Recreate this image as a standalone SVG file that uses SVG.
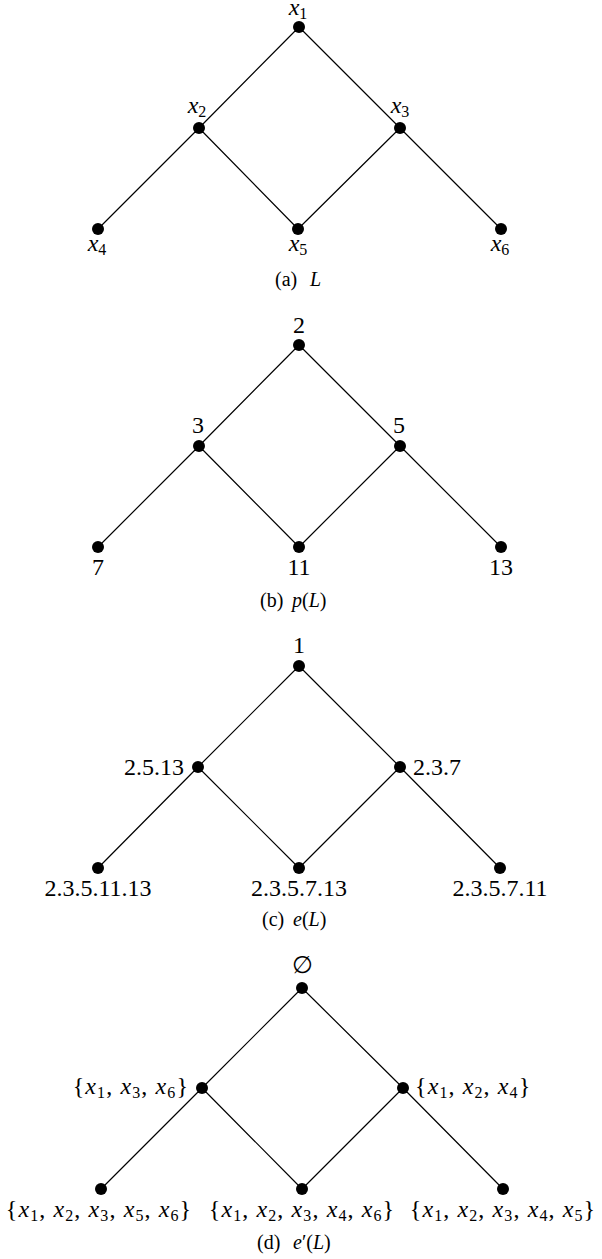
<svg xmlns="http://www.w3.org/2000/svg" width="602" height="1259" viewBox="0 0 602 1259">
<style>
text{font-family:"Liberation Serif",serif;fill:#000}
.es{font-family:"DejaVu Serif",serif}
.e{stroke:#000;stroke-width:1.2;fill:none}
.n{fill:#000}
.l{font-size:24px}
.c{font-size:20px}
.it{font-style:italic}
.s{font-size:16px}
.m{text-anchor:middle}
.r{text-anchor:end}
.w{letter-spacing:1.1px}
</style>
<rect width="602" height="1259" fill="#fff"/>
<g id="connectors">
<path class="e" d="M299,27L199,128M299,27L400,128M199,128L98,229M199,128L298,229M400,128L298,229M400,128L501,229"/>
<path class="e" d="M299,345L199,446M299,345L400,446M199,446L98,547M199,446L299,547M400,446L299,547M400,446L501,547"/>
<path class="e" d="M299,666L198,767M299,666L400,767M198,767L98,868M198,767L299,868M400,767L299,868M400,767L500,868"/>
<path class="e" d="M302,988L202,1088M302,988L403,1088M202,1088L101,1189M202,1088L302,1189M403,1088L302,1189M403,1088L503,1189"/>
</g>
<!-- (a) -->
<g id="a-x1"><circle class="n" cx="299" cy="27" r="6"/><text class="l m" x="298" y="15"><tspan class="it">x</tspan><tspan class="s" dy="4">1</tspan></text></g>
<g id="a-x2"><circle class="n" cx="199" cy="128" r="6"/><text class="l m" x="197" y="113"><tspan class="it">x</tspan><tspan class="s" dy="4">2</tspan></text></g>
<g id="a-x3"><circle class="n" cx="400" cy="128" r="6"/><text class="l m" x="400" y="113"><tspan class="it">x</tspan><tspan class="s" dy="4">3</tspan></text></g>
<g id="a-x4"><circle class="n" cx="98" cy="229" r="6"/><text class="l m" x="97" y="251"><tspan class="it">x</tspan><tspan class="s" dy="4">4</tspan></text></g>
<g id="a-x5"><circle class="n" cx="298" cy="229" r="6"/><text class="l m" x="298" y="251"><tspan class="it">x</tspan><tspan class="s" dy="4">5</tspan></text></g>
<g id="a-x6"><circle class="n" cx="501" cy="229" r="6"/><text class="l m" x="500" y="251"><tspan class="it">x</tspan><tspan class="s" dy="4">6</tspan></text></g>
<text class="c" x="275" y="286">(a)<tspan class="it" x="310">L</tspan></text>
<!-- (b) -->
<g id="b-2"><circle class="n" cx="299" cy="345" r="6"/><text class="l m" x="299" y="333">2</text></g>
<g id="b-3"><circle class="n" cx="199" cy="446" r="6"/><text class="l m" x="198" y="433">3</text></g>
<g id="b-5"><circle class="n" cx="400" cy="446" r="6"/><text class="l m" x="399" y="433">5</text></g>
<g id="b-7"><circle class="n" cx="98" cy="547" r="6"/><text class="l m" x="98" y="575">7</text></g>
<g id="b-11"><circle class="n" cx="299" cy="547" r="6"/><text class="l m" x="299" y="575">11</text></g>
<g id="b-13"><circle class="n" cx="501" cy="547" r="6"/><text class="l m" x="501" y="575">13</text></g>
<text class="c" x="260" y="607">(b)<tspan x="292"><tspan class="it">p</tspan>(<tspan class="it">L</tspan>)</tspan></text>
<!-- (c) -->
<g id="c-1"><circle class="n" cx="299" cy="666" r="6"/><text class="l m" x="299" y="653">1</text></g>
<g id="c-2513"><circle class="n" cx="198" cy="767" r="6"/><text class="l r" x="184" y="775">2.5.13</text></g>
<g id="c-237"><circle class="n" cx="400" cy="767" r="6"/><text class="l" x="413" y="775">2.3.7</text></g>
<g id="c-2351113"><circle class="n" cx="98" cy="868" r="6"/><text class="l m" x="98" y="896">2.3.5.11.13</text></g>
<g id="c-235713"><circle class="n" cx="299" cy="868" r="6"/><text class="l m" x="299" y="896">2.3.5.7.13</text></g>
<g id="c-235711"><circle class="n" cx="500" cy="868" r="6"/><text class="l m" x="500" y="896">2.3.5.7.11</text></g>
<text class="c" x="262" y="926">(c)<tspan x="293"><tspan class="it">e</tspan>(<tspan class="it">L</tspan>)</tspan></text>
<!-- (d) -->
<g id="d-empty"><circle class="n" cx="302" cy="988" r="6"/><text class="l m es" x="302" y="973">∅</text></g>
<g id="d-136"><circle class="n" cx="202" cy="1088" r="6"/><text class="l r w" x="189" y="1094">{<tspan class="it">x</tspan><tspan class="s" dy="4">1</tspan><tspan dy="-4">, </tspan><tspan class="it">x</tspan><tspan class="s" dy="4">3</tspan><tspan dy="-4">, </tspan><tspan class="it">x</tspan><tspan class="s" dy="4">6</tspan><tspan dy="-4">}</tspan></text></g>
<g id="d-124"><circle class="n" cx="403" cy="1088" r="6"/><text class="l w" x="415" y="1094">{<tspan class="it">x</tspan><tspan class="s" dy="4">1</tspan><tspan dy="-4">, </tspan><tspan class="it">x</tspan><tspan class="s" dy="4">2</tspan><tspan dy="-4">, </tspan><tspan class="it">x</tspan><tspan class="s" dy="4">4</tspan><tspan dy="-4">}</tspan></text></g>
<g id="d-12356"><circle class="n" cx="101" cy="1189" r="6"/><text class="l m w" x="99" y="1217">{<tspan class="it">x</tspan><tspan class="s" dy="4">1</tspan><tspan dy="-4">, </tspan><tspan class="it">x</tspan><tspan class="s" dy="4">2</tspan><tspan dy="-4">, </tspan><tspan class="it">x</tspan><tspan class="s" dy="4">3</tspan><tspan dy="-4">, </tspan><tspan class="it">x</tspan><tspan class="s" dy="4">5</tspan><tspan dy="-4">, </tspan><tspan class="it">x</tspan><tspan class="s" dy="4">6</tspan><tspan dy="-4">}</tspan></text></g>
<g id="d-12346"><circle class="n" cx="302" cy="1189" r="6"/><text class="l m w" x="302" y="1217">{<tspan class="it">x</tspan><tspan class="s" dy="4">1</tspan><tspan dy="-4">, </tspan><tspan class="it">x</tspan><tspan class="s" dy="4">2</tspan><tspan dy="-4">, </tspan><tspan class="it">x</tspan><tspan class="s" dy="4">3</tspan><tspan dy="-4">, </tspan><tspan class="it">x</tspan><tspan class="s" dy="4">4</tspan><tspan dy="-4">, </tspan><tspan class="it">x</tspan><tspan class="s" dy="4">6</tspan><tspan dy="-4">}</tspan></text></g>
<g id="d-12345"><circle class="n" cx="503" cy="1189" r="6"/><text class="l m w" x="503" y="1217">{<tspan class="it">x</tspan><tspan class="s" dy="4">1</tspan><tspan dy="-4">, </tspan><tspan class="it">x</tspan><tspan class="s" dy="4">2</tspan><tspan dy="-4">, </tspan><tspan class="it">x</tspan><tspan class="s" dy="4">3</tspan><tspan dy="-4">, </tspan><tspan class="it">x</tspan><tspan class="s" dy="4">4</tspan><tspan dy="-4">, </tspan><tspan class="it">x</tspan><tspan class="s" dy="4">5</tspan><tspan dy="-4">}</tspan></text></g>
<text class="c" x="257" y="1249">(d)<tspan x="293"><tspan class="it">e</tspan>′(<tspan class="it">L</tspan>)</tspan></text>
</svg>
